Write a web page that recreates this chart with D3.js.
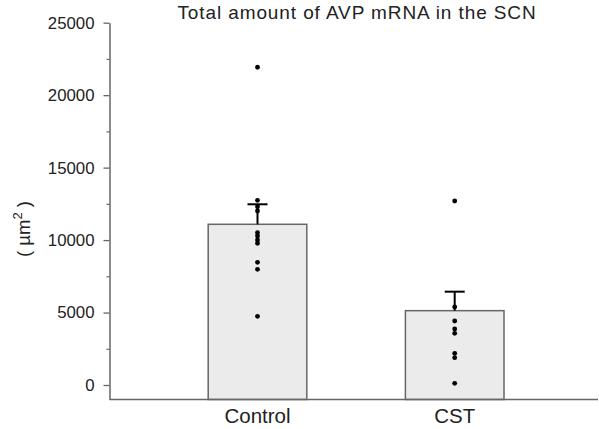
<!DOCTYPE html>
<html>
<head>
<meta charset="utf-8">
<script src="https://cdn.jsdelivr.net/npm/d3@7"></script>
<style>
  html, body { margin: 0; padding: 0; background: #fff; }
  svg { display: block; font-family: "Liberation Sans", Arial, Helvetica, sans-serif; }
</style>
</head>
<body>
<svg id="chart" width="599" height="429"></svg>
<script>
// Group means and standard errors (µm²)
const groups = ["Control", "CST"];
const means = [11090, 5130];
const errors = [1380, 1310];

// Individual animal values per group
const controlPoints = [21925, 12745, 12305, 12008, 10510, 10283, 10007, 9780, 8468, 7985, 4741];
const cstPoints = [12698, 5383, 4417, 3865, 3565, 2186, 1886, 116];

const majorTicks = [0, 5000, 10000, 15000, 20000, 25000];
const minorTicks = [2500, 7500, 12500, 17500, 22500];

const svg = d3.select("#chart");

const y = d3.scaleLinear().domain([-1000, 25000]).range([399.5, 22.7]);
const x = d3.scaleBand().domain(groups).range([158.9, 553.3]).padding(0);
const barW = x.bandwidth() * 0.5;
const cx = g => x(g) + x.bandwidth() / 2;

const axisColor = "#666";

// Y axis: labelled major ticks, short unlabelled minor ticks
const yAxis = svg.append("g")
  .attr("transform", "translate(109.5,0)")
  .call(d3.axisLeft(y).tickValues(majorTicks).tickSize(6).tickSizeOuter(0)
    .tickPadding(9).tickFormat(d3.format("d")));
yAxis.select(".domain").attr("stroke", axisColor).attr("stroke-width", 1.5);
yAxis.selectAll(".tick line").attr("stroke", axisColor).attr("stroke-width", 1.3);
yAxis.selectAll(".tick text")
  .attr("font-size", 16.8).attr("fill", "#222")
  .attr("font-family", "'Liberation Sans', Arial, sans-serif");

const yMinor = svg.append("g")
  .attr("transform", "translate(109.5,0)")
  .call(d3.axisLeft(y).tickValues(minorTicks).tickSize(3).tickSizeOuter(0).tickFormat(""));
yMinor.select(".domain").remove();
yMinor.selectAll(".tick line").attr("stroke", axisColor).attr("stroke-width", 1.2);

// Bars
svg.append("g").selectAll("rect")
  .data(groups)
  .join("rect")
  .attr("x", (d) => cx(d) - barW / 2)
  .attr("y", (d, i) => y(means[i]))
  .attr("width", barW)
  .attr("height", (d, i) => y(-1000) - y(means[i]))
  .attr("fill", "#ebebeb")
  .attr("stroke", "#666")
  .attr("stroke-width", 1.5);

// X axis baseline
svg.append("line")
  .attr("x1", 109.5).attr("x2", 598)
  .attr("y1", y(-1000)).attr("y2", y(-1000))
  .attr("stroke", axisColor).attr("stroke-width", 1.6);

// Error bars (mean + SEM)
const eb = svg.append("g").attr("stroke", "#000").attr("stroke-width", 2);
groups.forEach((g, i) => {
  eb.append("line")
    .attr("x1", cx(g)).attr("x2", cx(g))
    .attr("y1", y(means[i])).attr("y2", y(means[i] + errors[i]));
  eb.append("line")
    .attr("x1", cx(g) - 10).attr("x2", cx(g) + 10)
    .attr("y1", y(means[i] + errors[i])).attr("y2", y(means[i] + errors[i]));
});

// Individual data points
const pts = [controlPoints, cstPoints];
groups.forEach((g, i) => {
  svg.append("g").selectAll("circle")
    .data(pts[i])
    .join("circle")
    .attr("cx", cx(g))
    .attr("cy", d => y(d))
    .attr("r", 2.4)
    .attr("fill", "#000");
});

// Category labels
svg.append("g").selectAll("text")
  .data(groups)
  .join("text")
  .attr("x", d => cx(d))
  .attr("y", 423)
  .attr("text-anchor", "middle")
  .attr("font-size", 20.5)
  .attr("fill", "#222")
  .text(d => d);

// Title
svg.append("text")
  .attr("x", 357)
  .attr("y", 19)
  .attr("text-anchor", "middle")
  .attr("font-size", 19)
  .attr("letter-spacing", 0.9)
  .attr("fill", "#222")
  .text("Total amount of AVP mRNA in the SCN");

// Y axis unit label
const yl = svg.append("text")
  .attr("transform", "translate(30,229) rotate(-90)")
  .attr("text-anchor", "middle")
  .attr("font-size", 18.5)
  .attr("fill", "#222");
yl.append("tspan").text("( µm");
yl.append("tspan").attr("font-size", 13).attr("dy", -8).text("2");
yl.append("tspan").attr("dy", 8).text(" )");
</script>
</body>
</html>
